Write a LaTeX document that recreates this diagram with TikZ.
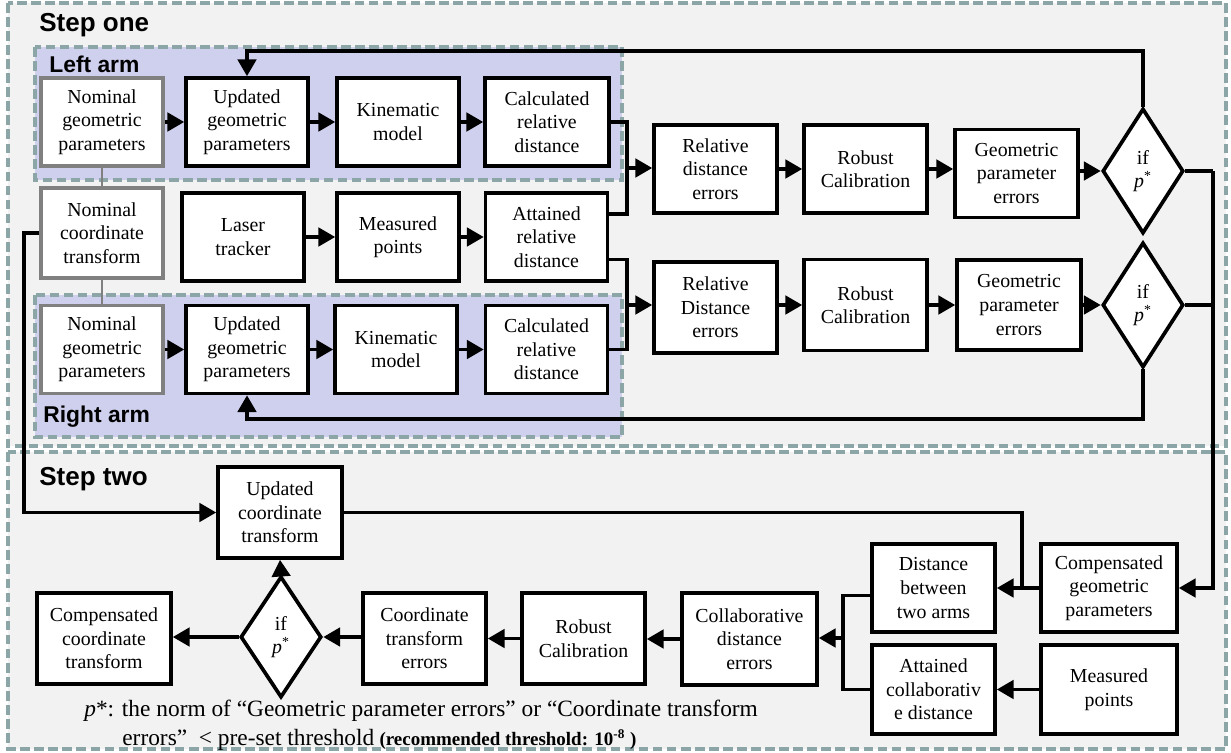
\documentclass[tikz,border=0pt]{standalone}
\usepackage{fontspec}
\setmainfont{Liberation Serif}
\setsansfont{Liberation Sans}
\usetikzlibrary{shapes.geometric,arrows.meta,calc}
\definecolor{dashc}{RGB}{140,166,167}
\definecolor{lav}{RGB}{207,207,238}
\definecolor{bgc}{RGB}{242,242,242}
\definecolor{gboxc}{RGB}{128,128,128}
\begin{document}
\begin{tikzpicture}[x=0.02cm,y=-0.02cm,
 box/.style={draw=black, line width=2.1pt, fill=white, align=center, inner sep=1pt,
   font=\fontsize{11.3}{13.4}\selectfont, minimum width=2.44cm, minimum height=1.76cm},
 gbox/.style={box, draw=gboxc, line width=1.8pt},
 dia/.style={diamond, draw, line width=2.1pt, fill=white, align=center, inner sep=0pt,
   minimum width=1.62cm, minimum height=2.5cm, aspect=0.65, font=\fontsize{11.3}{13.4}\selectfont},
 arr/.style={line width=1.8pt, -{Triangle[length=9.5pt,width=10.5pt]}},
 ln/.style={line width=1.8pt},
 gline/.style={draw=gboxc, line width=1.3pt},
 region/.style={draw=dashc, line width=1.8pt, dash pattern=on 5.5pt off 2.5pt},
 hdr/.style={font=\sffamily\bfseries\fontsize{14.8}{17}\selectfont, anchor=base west, inner sep=0pt},
 ahdr/.style={font=\sffamily\bfseries\fontsize{13}{15}\selectfont, anchor=base west, inner sep=0pt},
 fnote/.style={font=\fontsize{13.3}{15}\selectfont, anchor=base west, inner sep=0pt}
]
\useasboundingbox (0,0) rectangle (1231,753);
\fill[white] (0,0) rectangle (1231,753);

% regions
\draw[region, fill=bgc] (8,3) rectangle (1226,446);
\draw[region, fill=bgc] (8,452) rectangle (1226,749);
\draw[region, fill=lav] (35,47) rectangle (622,180);
\draw[region, fill=lav] (35,295) rectangle (622,437);

\node[hdr] (s1) at (39,32) {Step one};
\node[hdr] (s2) at (39,485) {Step two};
\node[ahdr] (la) at (49,73) {Left arm};
\node[ahdr] (ra) at (43,422) {Right arm};

% step one nodes
\node[gbox] (lng) at (102,122) {Nominal\\geometric\\parameters};
\node[box] (lug) at (247,122) {Updated\\geometric\\parameters};
\node[box] (lkm) at (398,122) {Kinematic\\model};
\node[box, minimum width=2.48cm] (lcd) at (547,122) {Calculated\\relative\\distance};

\node[gbox, minimum height=1.8cm] (nct) at (102,233) {Nominal\\coordinate\\transform};
\node[box] (lt) at (243,237) {Laser\\tracker};
\node[box] (mp) at (398,237) {Measured\\points};
\node[box] (ard) at (546.5,237) {Attained\\relative\\distance};

\node[gbox] (rng) at (102,349.5) {Nominal\\geometric\\parameters};
\node[box] (rug) at (247,349.5) {Updated\\geometric\\parameters};
\node[box] (rkm) at (396,349.5) {Kinematic\\model};
\node[box] (rcd) at (546.5,349.5) {Calculated\\relative\\distance};

\node[box, minimum width=2.46cm] (rde1) at (715.5,169) {Relative\\distance\\errors};
\node[box, minimum width=2.46cm] (rc1) at (865.5,169) {Robust\\Calibration};
\node[box, minimum width=2.46cm] (gpe1) at (1016.5,173.5) {Geometric\\parameter\\errors};
\node[dia] (d1) at (1143,171) {if\\\textit{p}\textsuperscript{*}};

\node[box, minimum width=2.46cm, minimum height=1.82cm] (rde2) at (715.5,307.5) {Relative\\Distance\\errors};
\node[box, minimum width=2.46cm, minimum height=1.82cm] (rc2) at (865.5,305) {Robust\\Calibration};
\node[box, minimum width=2.48cm, minimum height=1.8cm] (gpe2) at (1019,305) {Geometric\\parameter\\errors};
\node[dia] (d2) at (1143,305) {if\\\textit{p}\textsuperscript{*}};

% step two nodes
\node[box, minimum width=2.48cm, minimum height=1.82cm] (uct) at (280,512.5) {Updated\\coordinate\\transform};
\node[dia, minimum height=2.42cm] (d3) at (281,637) {if\\\textit{p}\textsuperscript{*}};
\node[box, minimum width=2.68cm, minimum height=1.82cm] (cct) at (104,638.5) {Compensated\\coordinate\\transform};
\node[box, minimum width=2.46cm, minimum height=1.82cm] (cte) at (424.5,638.5) {Coordinate\\transform\\errors};
\node[box, minimum width=2.46cm, minimum height=1.82cm] (rc3) at (583.5,638.5) {Robust\\Calibration};
\node[box, minimum width=2.7cm, minimum height=1.84cm] (cde) at (749.5,639) {Collaborative\\distance\\errors};
\node[box, minimum width=2.46cm] (dta) at (933.5,588) {Distance\\between\\two arms};
\node[box, minimum width=2.46cm, minimum height=1.78cm] (acd) at (933.5,689.5) {Attained\\collaborativ\\e distance};
\node[box, minimum width=2.72cm] (cgp) at (1109,588) {Compensated\\geometric\\parameters};
\node[box, minimum width=2.72cm, minimum height=1.78cm] (mp2) at (1109,689.5) {Measured\\points};

% gray links
\draw[gline] (lng.south) -- (nct.north);
\draw[gline] (nct.south) -- (rng.north);

% row arrows
\draw[arr] (lng.east) -- (lng.east -| lug.west);
\draw[arr] (lug.east) -- (lug.east -| lkm.west);
\draw[arr] (lkm.east) -- (lkm.east -| lcd.west);
\draw[arr] (lt.east) -- (lt.east -| mp.west);
\draw[arr] (mp.east) -- (mp.east -| ard.west);
\draw[arr] (rng.east) -- (rng.east -| rug.west);
\draw[arr] (rug.east) -- (rug.east -| rkm.west);
\draw[arr] (rkm.east) -- (rkm.east -| rcd.west);

\draw[arr] (rde1.east) -- (rde1.east -| rc1.west);
\draw[arr] (rc1.east) -- (rc1.east -| gpe1.west);
\draw[arr] (gpe1.east |- d1.west) -- (d1.west);
\draw[arr] (rde2.east |- rc2.west) -- (rc2.west);
\draw[arr] (rc2.east) -- (rc2.east -| gpe2.west);
\draw[arr] (gpe2.east |- d2.west) -- (d2.west);

% merges
\coordinate (j1) at (627,168);
\draw[ln] (lcd.east) -| (j1);
\draw[ln] ($(ard.north east)!0.25!(ard.south east)$) -| (j1);
\draw[arr] (j1) -- (j1 -| rde1.west);
\coordinate (j2) at (627,305);
\draw[ln] ($(ard.north east)!0.75!(ard.south east)$) -| (j2);
\draw[ln] (rcd.east) -| (j2);
\draw[arr] (j2) -- (j2 -| rde2.west);

% feedback loops
\coordinate (t1) at (1143,51);
\draw[arr] (d1.north) -- (t1) -| (lug.north);
\coordinate (b1) at (1143,419);
\draw[arr] (d2.south) -- (b1) -| (rug.south);
\coordinate (r1) at (1213,171);
\draw[ln] (d1.east) -- (r1);
\draw[ln] (d2.east) -- (d2.east -| r1);
\draw[arr] (r1) |- (cgp.east);
\coordinate (l1) at (24,233);
\draw[arr] (nct.west) -- (l1) |- (uct.west);

% step two connectors
\draw[arr] (cgp.west) -- (dta.east);
\coordinate (u1) at (1022,513);
\draw[ln] (uct.east) -- (uct.east -| u1) -- (u1 |- cgp.west);
\draw[arr] (mp2.west) -- (acd.east);
\coordinate (j3) at (843,638);
\draw[ln] ($(dta.north west)!0.58!(dta.south west)$) -| (j3);
\draw[ln] (acd.west) -| (j3);
\draw[arr] (j3) -- (j3 -| cde.east);
\draw[arr] (cde.west) -- (cde.west -| rc3.east);
\draw[arr] (rc3.west) -- (rc3.west -| cte.east);
\draw[arr] (cte.west |- d3.east) -- (d3.east);
\draw[arr] (d3.west) -- (d3.west -| cct.east);
\draw[arr] (d3.north) -- (uct.south);

% footnote
\node[fnote] (fn1) at (84,716) {\textit{p}*: the norm of “Geometric parameter errors” or “Coordinate transform};
\node[fnote] (fn2) at (122,745) {errors”~~< pre-set threshold\hspace{3pt}{\bfseries\fontsize{10.8}{12}\selectfont (recommended threshold: 10\textsuperscript{-8} )}};
\end{tikzpicture}
\end{document}
